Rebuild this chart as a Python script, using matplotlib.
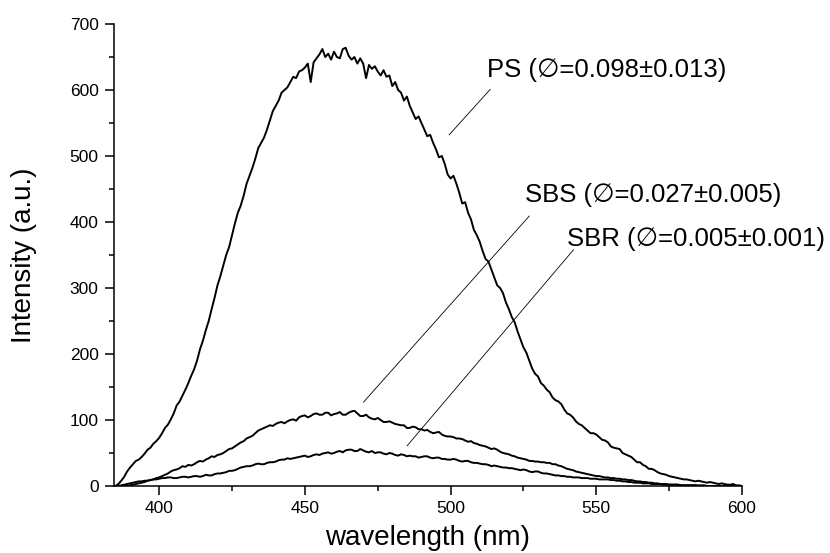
import numpy as np
import matplotlib
matplotlib.use("Agg")
import matplotlib.pyplot as plt

plt.rcParams['font.family'] = ['Liberation Sans', 'DejaVu Sans']

# wavelength grid (nm), 1 nm sampling
wavelength = np.arange(384, 601, 1)

ps = [0, 0, 3, 8, 14, 22, 28, 33, 38, 40,
      44, 49, 55, 58, 64, 68, 73, 80, 88, 93,
      101, 110, 122, 128, 137, 146, 156, 167, 177, 190,
      207, 220, 236, 250, 268, 285, 304, 318, 334, 350,
      362, 380, 398, 414, 425, 440, 458, 470, 482, 496,
      512, 520, 528, 540, 554, 568, 576, 584, 596, 600,
      604, 612, 620, 618, 628, 630, 634, 640, 612, 642,
      648, 654, 662, 650, 655, 646, 658, 650, 648, 662,
      664, 652, 646, 650, 640, 648, 640, 618, 638, 632,
      636, 628, 622, 630, 620, 622, 606, 612, 600, 596,
      584, 590, 576, 566, 556, 560, 550, 540, 530, 532,
      520, 510, 498, 500, 488, 472, 466, 470, 458, 444,
      428, 430, 414, 404, 388, 380, 370, 356, 344, 340,
      328, 316, 304, 300, 292, 278, 268, 256, 248, 234,
      222, 210, 202, 190, 178, 170, 166, 156, 152, 146,
      142, 134, 130, 128, 124, 116, 110, 108, 104, 98,
      94, 92, 88, 84, 80, 80, 78, 74, 70, 69,
      66, 60, 58, 57, 56, 50, 48, 46, 44, 40,
      36, 36, 32, 30, 26, 26, 24, 21, 19, 18,
      17, 15, 14, 13, 12, 11, 10, 10, 9, 8,
      7, 8, 7, 6, 5, 6, 5, 4, 3, 4,
      3, 2, 2, 3, 1, 1, 0]

sbs = [0, 0, 0, 0, 0, 1, 1, 2, 3, 4,
       5, 6, 8, 9, 10, 12, 13, 15, 17, 19,
       22, 24, 25, 27, 30, 29, 32, 31, 33, 36,
       38, 37, 40, 42, 45, 44, 47, 48, 50, 53,
       56, 57, 60, 63, 66, 68, 72, 74, 76, 80,
       84, 86, 88, 90, 92, 91, 94, 96, 97, 95,
       98, 100, 101, 99, 104, 106, 107, 104, 106, 109,
       110, 108, 108, 111, 111, 107, 109, 110, 112, 108,
       108, 111, 113, 114, 110, 106, 106, 108, 104, 102,
       101, 103, 100, 97, 97, 98, 96, 94, 93, 92,
       92, 88, 88, 90, 89, 86, 86, 84, 85, 82,
       80, 81, 82, 78, 76, 75, 75, 74, 72, 72,
       71, 69, 67, 68, 65, 64, 62, 61, 60, 58,
       56, 57, 55, 52, 50, 49, 48, 46, 45, 43,
       42, 41, 40, 38, 38, 37, 37, 36, 36, 35,
       35, 33, 33, 31, 30, 28, 26, 25, 24, 22,
       21, 20, 19, 18, 17, 16, 15, 15, 14, 13,
       13, 12, 12, 11, 11, 10, 10, 9, 9, 8,
       7, 7, 6, 6, 5, 5, 4, 4, 3, 3,
       3, 2, 2, 2, 2, 1, 1, 1, 1, 1,
       1, 0, 0, 0, 0, 0, 0, 0, 0, 0,
       0, 0, 0, 0, 0, 0, 0]

sbr = [0, 0, 0, 1, 2, 3, 4, 5, 6, 7,
       7, 8, 8, 9, 10, 10, 11, 12, 12, 13,
       13, 12, 12, 13, 14, 14, 13, 14, 15, 15,
       14, 15, 17, 16, 16, 18, 19, 19, 20, 21,
       23, 23, 24, 26, 28, 29, 30, 30, 31, 33,
       34, 33, 33, 35, 36, 36, 37, 39, 40, 40,
       42, 41, 42, 43, 44, 45, 46, 44, 45, 47,
       48, 47, 49, 50, 51, 49, 50, 52, 53, 51,
       54, 55, 55, 53, 53, 56, 54, 52, 51, 53,
       50, 51, 51, 49, 48, 50, 49, 47, 46, 48,
       47, 45, 46, 45, 45, 43, 44, 45, 45, 43,
       42, 43, 43, 41, 41, 40, 40, 41, 40, 38,
       37, 38, 38, 36, 35, 35, 34, 33, 33, 32,
       30, 31, 30, 29, 28, 28, 27, 27, 26, 25,
       24, 25, 24, 22, 21, 22, 22, 20, 19, 19,
       18, 17, 16, 16, 15, 15, 14, 14, 13, 13,
       13, 12, 12, 12, 11, 11, 11, 10, 10, 10,
       10, 9, 9, 8, 8, 7, 7, 6, 6, 5,
       5, 5, 4, 4, 4, 3, 3, 3, 3, 2,
       2, 2, 2, 2, 2, 1, 1, 1, 1, 1,
       1, 1, 1, 1, 0, 0, 0, 0, 0, 0,
       0, 0, 0, 0, 0, 0, 0]

labels = ["PS (\u2205=0.098\u00b10.013)",
          "SBS (\u2205=0.027\u00b10.005)",
          "SBR (\u2205=0.005\u00b10.001)"]
label_xy = [(512.4, 630), (525.4, 441), (540.1, 374)]
leader_start = [(513.6, 601), (527.0, 409), (542.2, 358)]
leader_end = [(499.5, 532), (470.1, 127), (485.1, 61)]

fig = plt.figure(figsize=(8.3, 5.53), dpi=100)
ax = fig.add_axes([114 / 830, 1 - 486 / 553, (742 - 114) / 830, (486 - 24) / 553])

for series in (ps, sbs, sbr):
    ax.plot(wavelength, series, color='black', lw=1.4)

for lab, (tx, ty), (sx, sy), (ex, ey) in zip(labels, label_xy, leader_start, leader_end):
    ax.text(tx, ty, lab, fontsize=18.5, ha='left', va='center', clip_on=False)
    ax.plot([sx, ex], [sy, ey], color='black', lw=0.6)

ax.set_xlim(384.5, 600)
ax.set_ylim(0, 700)
ax.set_xticks([400, 450, 500, 550, 600])
ax.set_xticks([425, 475, 525, 575], minor=True)
ax.set_yticks(np.arange(0, 701, 100))
ax.set_yticks(np.arange(50, 700, 100), minor=True)

for s in ('top', 'right'):
    ax.spines[s].set_visible(False)
for s in ('left', 'bottom'):
    ax.spines[s].set_linewidth(1.1)

ax.tick_params(axis='both', which='major', direction='out', length=6.5, width=1.1, labelsize=12.5)
ax.tick_params(axis='x', which='major', pad=4)
ax.tick_params(axis='y', which='major', pad=4.5)
ax.tick_params(axis='both', which='minor', direction='out', length=3.6, width=1.1)

ax.set_xlabel("wavelength (nm)", fontsize=20)
ax.set_ylabel("Intensity (a.u.)", fontsize=20)
ax.xaxis.set_label_coords(0.5, -0.1407)
ax.yaxis.set_label_coords(-0.143, 0.5)
ax.xaxis.label.set_va('bottom')
ax.yaxis.label.set_va('center')

fig.savefig("out.png", dpi=100)
